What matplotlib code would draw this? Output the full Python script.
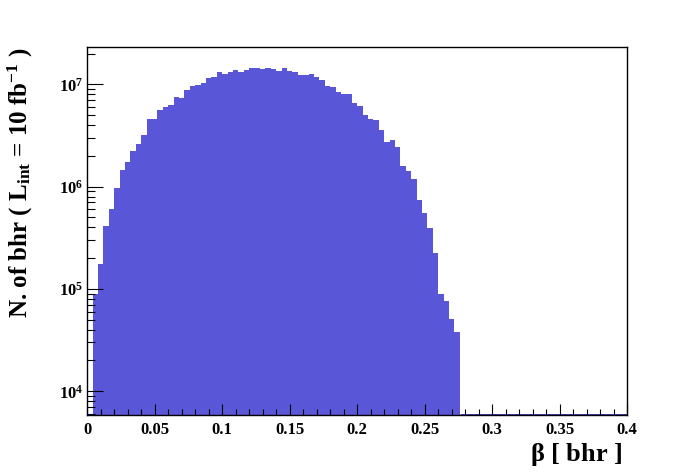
import numpy as np
import matplotlib
matplotlib.use('Agg')
import matplotlib.pyplot as plt
from matplotlib.ticker import FixedLocator, FuncFormatter, LogLocator, NullFormatter

# histogram of beta for bhr, 100 bins in [0, 0.4]; empty bins kept at 0
bin_edges = np.linspace(0.0, 0.4, 101)
counts = [0,
          9.0e4, 1.74e5, 4.1e5, 6.1e5, 9.8e5, 1.44e6, 1.73e6, 2.21e6, 2.59e6, 3.17e6,
          4.55e6, 4.55e6, 5.57e6, 5.96e6, 6.24e6, 7.46e6, 7.3e6, 8.73e6, 9.56e6, 9.78e6,
          1.02e7, 1.15e7, 1.17e7, 1.31e7, 1.25e7, 1.31e7, 1.37e7, 1.31e7, 1.37e7, 1.43e7,
          1.43e7, 1.40e7, 1.43e7, 1.40e7, 1.34e7, 1.43e7, 1.34e7, 1.31e7, 1.22e7, 1.22e7,
          1.25e7, 1.17e7, 1.09e7, 9.56e6, 9.35e6, 8.35e6, 7.98e6, 7.98e6, 6.52e6, 6.09e6,
          4.98e6, 4.55e6, 4.45e6, 3.55e6, 2.71e6, 2.84e6, 2.42e6, 1.58e6, 1.41e6, 1.18e6,
          7.34e5, 5.48e5, 3.91e5, 2.23e5, 8.86e4, 7.56e4, 5.05e4, 3.77e4] + [0] * 31
counts = np.array(counts, dtype=float)
x_ticks = [0, 0.05, 0.1, 0.15, 0.2, 0.25, 0.3, 0.35, 0.4]
y_min, y_max = 5.9e3, 2.3e7

plt.rcParams['font.family'] = 'Liberation Serif'
plt.rcParams['font.weight'] = 'bold'
plt.rcParams['mathtext.fontset'] = 'custom'
plt.rcParams['mathtext.rm'] = 'Liberation Serif:bold'
plt.rcParams['mathtext.it'] = 'Liberation Serif:bold'
plt.rcParams['mathtext.bf'] = 'Liberation Serif:bold'

fig = plt.figure(figsize=(6.96, 4.72), dpi=100)
ax = fig.add_axes([87.3/696, 1-414.7/472, (627-87.3)/696, (414.7-47.3)/472])

filled = counts > 0
ax.bar(bin_edges[:-1][filled], counts[filled], width=np.diff(bin_edges)[filled],
       align='edge', color='#5a56d8', linewidth=0, log=True)
# empty bins: ROOT draws the outline along the bottom of the frame
empty = np.where(~filled)[0]
ax.hlines(y_min, bin_edges[empty[1]], bin_edges[-1], color='#00008c', lw=1.8, zorder=3)
ax.hlines(y_min, bin_edges[0], bin_edges[1], color='#00008c', lw=1.8, zorder=3)

ax.set_yscale('log')
ax.set_xlim(0, 0.4); ax.set_ylim(y_min, y_max)

ax.xaxis.set_major_locator(FixedLocator(x_ticks))
ax.xaxis.set_minor_locator(FixedLocator(np.arange(0, 0.401, 0.01)))
ax.xaxis.set_major_formatter(FuncFormatter(lambda v, p: '%g' % round(v, 3)))
ax.yaxis.set_major_locator(LogLocator(base=10))
ax.yaxis.set_minor_locator(LogLocator(base=10, subs=np.arange(2, 10)))
ax.yaxis.set_minor_formatter(NullFormatter())
ax.yaxis.set_major_formatter(FuncFormatter(lambda v, p: r'$\mathrm{10^{%d}}$' % round(np.log10(v))))

ax.tick_params(axis='both', which='both', direction='in', top=False, right=False, width=0.8, color='black')
ax.tick_params(axis='y', which='major', length=11.5, labelsize=12, pad=3)
ax.tick_params(axis='y', which='minor', length=5.8)
ax.tick_params(axis='x', which='major', length=7.7, labelsize=12, pad=5)
ax.tick_params(axis='x', which='minor', length=4.3)
for s in ax.spines.values():
    s.set_linewidth(1.0)

fig.text(20/696, 1-47/472, r'N. of bhr ( L$_{\mathrm{int}}$ = 10 fb$^{\mathrm{-1}}$ )',
         rotation=90, ha='center', va='top', fontsize=18, fontweight='bold')
fig.text(622/696, 1-455/472, r'$\beta$ [ bhr ]', ha='right', va='center', fontsize=19, fontweight='bold')

fig.savefig('out.png', dpi=100)
